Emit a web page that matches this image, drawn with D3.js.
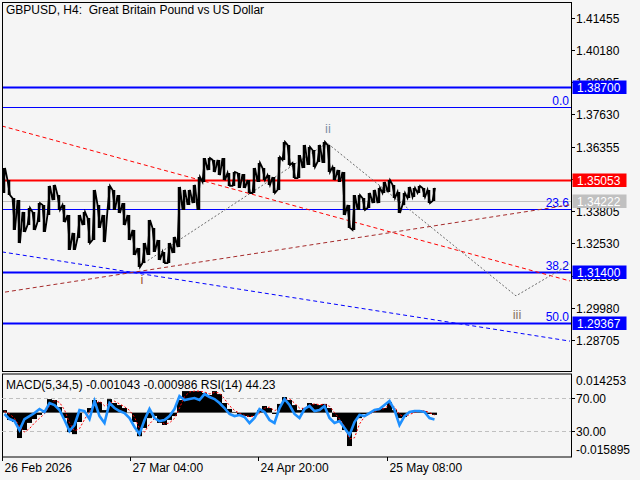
<!DOCTYPE html>
<html><head><meta charset="utf-8">
<script src="https://cdn.jsdelivr.net/npm/d3@7"></script>
<style>
html,body{margin:0;padding:0;background:#f5f5f5;}
svg{display:block;font-family:"Liberation Sans",Arial,sans-serif;font-size:12px;}
text{white-space:pre;}
</style></head><body>
<svg id="c" width="640" height="480"></svg>
<script>
// ---------- DATA ----------
const title = "GBPUSD, H4:  Great Britain Pound vs US Dollar";
const macdTitle = "MACD(5,34,5) -0.001043 -0.000986 RSI(14) 44.23";
const barsPerStep = 5;
// highs / lows of each 5-bar step (H4 bars from 26 Feb 2026)
const highs = [1.3551,1.3503,1.3432,1.3424,1.3377,1.3393,1.3377,1.3412,1.3405,1.3480,
  1.3484,1.3444,1.3405,1.3365,1.3294,1.3365,1.3377,1.3353,1.3464,1.3405,
  1.3365,1.3480,1.3464,1.3444,1.3412,1.3365,1.3306,1.3234,1.3254,1.3345,
  1.3314,1.3266,1.3219,1.3254,1.3278,1.3476,1.3464,1.3464,1.3484,1.3515,
  1.3590,1.3590,1.3583,1.3583,1.3590,1.3531,1.3535,1.3531,1.3527,1.3503,
  1.3551,1.3571,1.3551,1.3523,1.3515,1.3594,1.3654,1.3642,1.3571,1.3602,
  1.3642,1.3634,1.3622,1.3642,1.3654,1.3642,1.3555,1.3543,1.3535,1.3405,
  1.3444,1.3444,1.3432,1.3452,1.3464,1.3472,1.3496,1.3503,1.3484,1.3456,
  1.3452,1.3476,1.3472,1.3480,1.3472,1.3464,1.3472];
const lows = [1.3452,1.3444,1.3306,1.3254,1.3298,1.3325,1.3306,1.3337,1.3298,1.3365,
  1.3424,1.3385,1.3337,1.3227,1.3227,1.3274,1.3325,1.3254,1.3266,1.3314,
  1.3258,1.3385,1.3385,1.3373,1.3325,1.3266,1.3207,1.3159,1.3175,1.3207,
  1.3219,1.3187,1.3175,1.3175,1.3215,1.3238,1.3385,1.3405,1.3412,1.3385,
  1.3496,1.3543,1.3535,1.3523,1.3503,1.3480,1.3480,1.3472,1.3472,1.3452,
  1.3452,1.3496,1.3503,1.3484,1.3452,1.3464,1.3583,1.3563,1.3511,1.3511,
  1.3551,1.3563,1.3555,1.3575,1.3571,1.3535,1.3503,1.3496,1.3365,1.3314,
  1.3306,1.3385,1.3385,1.3393,1.3412,1.3412,1.3452,1.3456,1.3432,1.3373,
  1.3405,1.3432,1.3436,1.3452,1.3436,1.3412,1.3420];
const macd = [0.0011,-0.0032,-0.0041,-0.0111,-0.0076,-0.0045,-0.0028,-0.0010,0.0011,0.0059,
  0.0055,0.0024,-0.0024,-0.0085,-0.0094,-0.0041,-0.0002,0.0020,0.0055,0.0046,
  0.0011,0.0059,0.0042,0.0033,0.0020,-0.0002,-0.0041,-0.0103,-0.0067,-0.0024,
  -0.0015,-0.0045,-0.0054,-0.0032,-0.0015,0.0055,0.0094,0.0094,0.0094,0.0094,
  0.0086,0.0077,0.0094,0.0081,0.0042,0.0016,0.0003,-0.0010,-0.0015,-0.0019,
  -0.0015,0.0011,0.0029,0.0020,-0.0006,0.0038,0.0068,0.0055,0.0033,0.0011,
  0.0020,0.0042,0.0038,0.0033,0.0038,0.0020,-0.0019,-0.0037,-0.0076,-0.0146,
  -0.0085,-0.0024,-0.0006,-0.0002,0.0011,0.0016,0.0020,0.0046,0.0011,-0.0024,
  -0.0019,-0.0002,0.0003,0.0011,0.0007,-0.0006,-0.0010];
const signal = [0.0005,-0.0005,-0.0025,-0.0060,-0.0085,-0.0070,-0.0045,-0.0025,-0.0005,0.0030,
  0.0052,0.0045,0.0012,-0.0045,-0.0080,-0.0070,-0.0030,0.0005,0.0035,0.0050,
  0.0030,0.0040,0.0050,0.0038,0.0026,0.0010,-0.0020,-0.0070,-0.0085,-0.0050,
  -0.0025,-0.0035,-0.0050,-0.0045,-0.0025,0.0020,0.0070,0.0090,0.0094,0.0094,
  0.0090,0.0082,0.0088,0.0086,0.0060,0.0030,0.0010,-0.0003,-0.0012,-0.0017,
  -0.0016,-0.0003,0.0020,0.0024,0.0008,0.0020,0.0055,0.0060,0.0042,0.0020,
  0.0018,0.0032,0.0038,0.0035,0.0036,0.0028,0.0000,-0.0028,-0.0060,-0.0115,
  -0.0110,-0.0050,-0.0018,-0.0006,0.0005,0.0013,0.0018,0.0035,0.0025,-0.0008,
  -0.0020,-0.0008,0.0000,0.0008,0.0008,0.0000,-0.0010];
const rsi = [50.8,44.6,42.2,31.2,44.6,48.3,52.0,56.9,53.2,64.2,
  61.8,55.7,43.4,30.0,37.3,55.7,54.4,44.6,66.7,48.3,
  39.8,64.2,58.1,54.4,52.0,45.9,34.9,26.3,43.4,56.9,
  45.9,42.2,43.4,48.3,56.9,72.8,67.9,69.1,70.3,67.9,
  75.2,71.6,69.1,64.2,58.1,50.8,48.3,49.5,47.1,39.8,
  45.9,56.9,53.2,43.4,39.8,58.1,69.1,61.8,50.8,45.9,
  56.9,60.6,54.4,55.7,60.6,45.9,39.8,42.2,33.6,25.1,
  41.0,49.5,48.3,52.0,55.7,56.9,61.8,66.7,55.7,37.3,
  48.3,53.2,54.4,54.4,53.2,45.9,44.2];
const priceTicks = [1.41455,1.40180,1.38905,1.37630,1.36355,1.35080,1.33805,1.32530,1.31255,1.29980,1.28705];
const timeTicks = [0,128,256,385];   // bar index
const timeLabels = ["26 Feb 2026","27 Mar 04:00","24 Apr 20:00","25 May 08:00"];
const levelPrices = [1.38700,1.35053,1.34222,1.31400,1.29367];
const levelColors = ["#0000ff","#ff0000","#c0c0c0","#0000ff","#0000ff"];
const levelWidths = [2,2,1,2,2];
const fibPrice0 = 1.3792, fibPrice100 = 1.2081;
const fibLevels = [0.0,23.6,38.2,50.0];
// trend lines: [bar1, price1, bar2, price2]
const trendLines = [[0,1.3717,568,1.3104],[0,1.3219,568,1.2866],[3,1.3060,568,1.3405]];
const trendColors = ["#ff0000","#0000ff","#a52a2a"];
const waveBars = [139,325,514,568];
const wavePrices = [1.3167,1.3650,1.3045,1.3171];
const waveNames = ["i","ii","iii"];
const waveColors = ["#a0522d","#8090a8","#8b7565"];
const macdRange = [-0.015895,0.014253];
const rsiLevels = [70,30];

// ---------- LAYOUT ----------
const svg = d3.select("#c");
const L = 2, R = 571, T = 2, B1 = 371.5, T2 = 373.5, B2 = 457;
const x = d3.scaleLinear().domain([0,128]).range([2,130]);
const y = d3.scaleLinear().domain([1.28705,1.41455]).range([340,17.7]);
const ym = d3.scaleLinear().domain(macdRange).range([449,380]);
const yr = d3.scaleLinear().domain([30,70]).range([431,398.3]);

svg.append("rect").attr("width",640).attr("height",480).attr("fill","#f5f5f5");
svg.append("clipPath").attr("id","cp").append("rect").attr("x",L).attr("y",T).attr("width",R-L).attr("height",B1-T);
svg.append("clipPath").attr("id","cp2").append("rect").attr("x",L).attr("y",T2).attr("width",R-L).attr("height",B2-T2);
const main = svg.append("g").attr("clip-path","url(#cp)");

// horizontal levels
levelPrices.forEach((p,i)=>{
  main.append("line").attr("x1",L).attr("x2",R).attr("y1",Math.round(y(p))+0.5).attr("y2",Math.round(y(p))+0.5)
    .attr("stroke",levelColors[i]).attr("stroke-width",levelWidths[i]);
});
// fib levels
fibLevels.forEach(f=>{
  const p = fibPrice0 - f/100*(fibPrice0-fibPrice100);
  const yy = Math.round(y(p))+0.5;
  main.append("line").attr("x1",L).attr("x2",R).attr("y1",yy).attr("y2",yy).attr("stroke","#0000ff").attr("stroke-width",1);
  main.append("text").attr("x",569).attr("y",yy-3).attr("text-anchor","end").attr("fill","#0000ff").text(f.toFixed(1));
});
// trend lines
trendLines.forEach((t,i)=>{
  main.append("line").attr("x1",x(t[0])).attr("y1",y(t[1])).attr("x2",x(t[2])).attr("y2",y(t[3]))
    .attr("stroke",trendColors[i]).attr("stroke-width",1).attr("stroke-dasharray","4,3");
});
// wave path
const wave = waveBars.map((b,i)=>[x(b),y(wavePrices[i])]);
main.append("path").attr("d",d3.line()(wave)).attr("fill","none").attr("stroke","#6a6a6a").attr("stroke-width",1).attr("stroke-dasharray","2,2");

// price zigzag
const pts = [];
highs.forEach((h,k)=>{
  const l = lows[k], mid=(h+l)/2;
  const prev = k>0 ? (highs[k-1]+lows[k-1])/2 : mid;
  const b0 = k*barsPerStep;
  const order = mid < prev ? [h,l] : [l,h];
  pts.push([x(b0+0.5),y(order[0])]);
  pts.push([x(b0+3),y(order[1])]);
});
main.append("path").attr("d",d3.line()(pts)).attr("fill","none").attr("stroke","#000").attr("stroke-width",1.8).attr("stroke-linejoin","miter");
highs.forEach((h,k)=>{
  const xc = x(k*barsPerStep+2);
  main.append("line").attr("x1",xc).attr("x2",xc).attr("y1",y(h)).attr("y2",y(lows[k])).attr("stroke","#000").attr("stroke-width",2.5);
});

// wave labels
const labY = [y(wavePrices[0])+19, y(wavePrices[1])-10, y(wavePrices[2])+23];
waveNames.forEach((n,i)=>{
  main.append("text").attr("x",x(waveBars[i])+1).attr("y",labY[i]).attr("text-anchor","middle")
    .attr("fill",waveColors[i]).attr("font-size","13px").text(n);
});

svg.append("text").attr("x",6).attr("y",14).attr("fill","#000").text(title);

// frames
svg.append("rect").attr("x",L+0.5).attr("y",T+0.5).attr("width",R-L).attr("height",B1-T-0.5).attr("fill","none").attr("stroke","#000");
svg.append("rect").attr("x",L+0.5).attr("y",T2+0.5).attr("width",R-L).attr("height",B2-T2-0.5).attr("fill","none").attr("stroke","#000");

// price axis
priceTicks.forEach(p=>{
  const yy = Math.round(y(p))+0.5;
  svg.append("line").attr("x1",R).attr("x2",R+4).attr("y1",yy).attr("y2",yy).attr("stroke","#000");
  svg.append("text").attr("x",576).attr("y",yy+4.5).attr("fill","#000").text(p.toFixed(5));
});
levelPrices.forEach((p,i)=>{
  const yy = Math.round(y(p))+0.5;
  svg.append("rect").attr("x",572.5).attr("y",yy-7).attr("width",54).attr("height",13.5).attr("fill",levelColors[i]);
  svg.append("text").attr("x",577).attr("y",yy+4.5).attr("fill","#fff").text(p.toFixed(5));
});

// MACD panel
const sub = svg.append("g").attr("clip-path","url(#cp2)");
rsiLevels.forEach(r=>{
  sub.append("line").attr("x1",L).attr("x2",R).attr("y1",Math.round(yr(r))+0.5).attr("y2",Math.round(yr(r))+0.5)
    .attr("stroke","#c0c0c0").attr("stroke-dasharray","4,3");
});
macd.forEach((v,k)=>{
  const y0 = ym(0), y1 = ym(v);
  sub.append("rect").attr("x",x(k*barsPerStep)).attr("width",x(barsPerStep)-x(0))
    .attr("y",Math.min(y0,y1)).attr("height",Math.abs(y1-y0)).attr("fill","#000");
});
sub.append("path").attr("d",d3.line().x((d,k)=>x(k*barsPerStep+2.5)).y(d=>ym(d))(signal))
  .attr("fill","none").attr("stroke","#ff0000").attr("stroke-width",1).attr("stroke-dasharray","2,2");
sub.append("path").attr("d",d3.line().x((d,k)=>x(k*barsPerStep+2.5)).y(d=>yr(d))(rsi))
  .attr("fill","none").attr("stroke","#1e90ff").attr("stroke-width",2.6);
svg.append("text").attr("x",6).attr("y",389).attr("fill","#000").text(macdTitle);

svg.append("text").attr("x",576).attr("y",ym(macdRange[1])+4.5).text(macdRange[1].toFixed(6));
svg.append("text").attr("x",576).attr("y",ym(macdRange[0])+4.5).text(macdRange[0].toFixed(6));
rsiLevels.forEach(r=>{
  const yy = Math.round(yr(r))+0.5;
  svg.append("line").attr("x1",R).attr("x2",R+4).attr("y1",yy).attr("y2",yy).attr("stroke","#000");
  svg.append("text").attr("x",576).attr("y",yy+4.5).text(r.toFixed(2));
});

// time axis
timeTicks.forEach((t,i)=>{
  const xx = Math.round(x(t))+0.5;
  svg.append("line").attr("x1",xx).attr("x2",xx).attr("y1",B2).attr("y2",B2+4).attr("stroke","#000");
  svg.append("text").attr("x",xx+2).attr("y",472).text(timeLabels[i]);
});
</script></body></html>
